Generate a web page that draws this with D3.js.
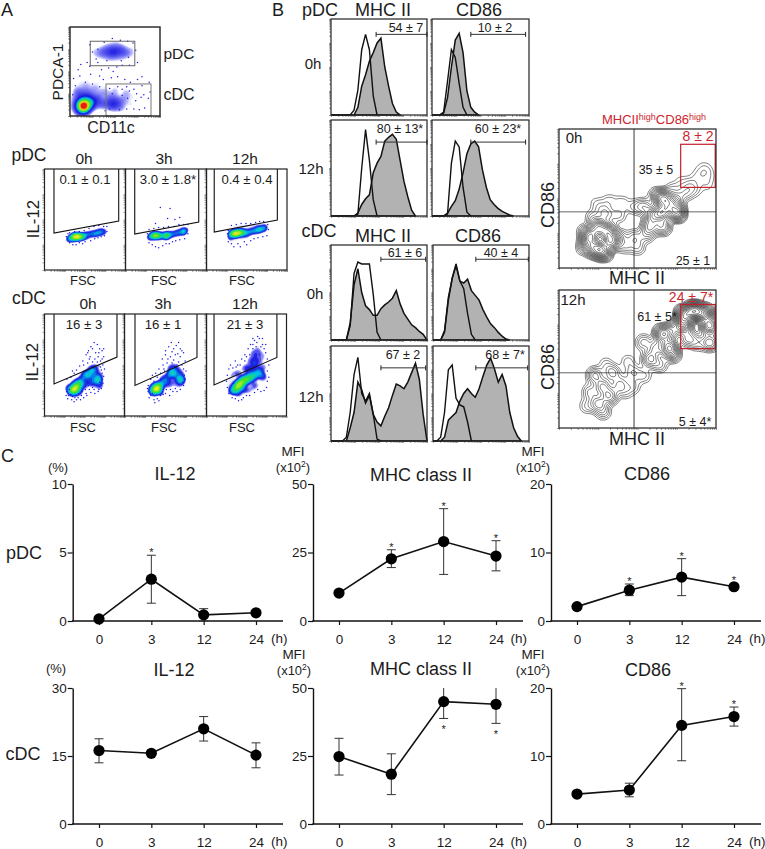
<!DOCTYPE html>
<html>
<head>
<meta charset="utf-8">
<script src="https://cdn.jsdelivr.net/npm/d3@7"></script>
<style>
body { margin: 0; background: #fff; }
svg { display: block; }
text { font-family: "Liberation Sans", Arial, sans-serif; fill: #1c1c1c; }
</style>
</head>
<body>
<div id="figure"></div>
<script>
// panel C: line charts (mean, lower and upper error ends)
var hours = ["0", "3", "12", "24"];

var pdcIl12 = [0.15, 3.05, 0.45, 0.6];
var pdcIl12Lo = [null, 1.3, 0, null];
var pdcIl12Hi = [null, 4.8, 0.9, null];
var pdcIl12Stars = ["", "up", "", ""];

var pdcMhc = [10.2, 22.7, 29, 23.7];
var pdcMhcLo = [null, 19.5, 17, 18.3];
var pdcMhcHi = [null, 26, 41, 29.3];
var pdcMhcStars = ["", "up", "up", "up"];

var pdcCd86 = [2.1, 4.5, 6.4, 5];
var pdcCd86Lo = [null, 3.7, 3.7, null];
var pdcCd86Hi = [null, 5.4, 9.1, null];
var pdcCd86Stars = ["", "up", "up", "up"];

var cdcIl12 = [16.2, 15.6, 21, 15.2];
var cdcIl12Lo = [13.5, null, 18.3, 12.4];
var cdcIl12Hi = [18.8, null, 23.7, 17.9];
var cdcIl12Stars = ["", "", "", ""];

var cdcMhc = [24.8, 18.3, 45, 44];
var cdcMhcLo = [18, 10.8, 38.8, 37];
var cdcMhcHi = [31.5, 25.8, 50, 50];
var cdcMhcStars = ["", "", "down", "down"];

var cdcCd86 = [4.4, 5, 14.5, 15.8];
var cdcCd86Lo = [null, 4, 9.3, 14.4];
var cdcCd86Hi = [null, 6, 19.9, 17.2];
var cdcCd86Stars = ["", "", "up", "up"];

// panel B: histograms, height in % of the frame, one value every 4% along the x axis
var pdcMhc0Ctrl = [0,0,0,0,0,0,5,26,68,84,68,20,0];
var pdcMhc0Stim = [0,0,0,0,0,0,0,8,30,42,56,65,75,80,50,30,12,3,0];
var pdcCd860Ctrl = [0,0,0,3,35,68,60,33,8,0];
var pdcCd860Stim = [0,0,0,2,18,50,78,85,65,25,8,3,0];
var pdcMhc12Ctrl = [0,0,0,0,0,0,0,2,50,90,58,17,0];
var pdcMhc12Stim = [0,0,0,0,0,0,0,3,12,18,22,45,55,62,78,82,85,80,58,36,20,6,0];
var pdcCd8612Ctrl = [0,0,0,0,2,55,78,72,30,4,0];
var pdcCd8612Stim = [0,0,0,0,3,10,16,28,45,65,75,78,72,48,30,17,12,8,5,3,1,0];
var cdcMhc0Ctrl = [0,0,0,0,0,15,70,82,80,80,80,48,8,0];
var cdcMhc0Stim = [0,0,0,0,0,18,58,75,50,36,32,26,26,33,37,40,44,52,38,28,22,16,13,9,6,0];
var cdcCd860Ctrl = [0,0,0,10,45,65,78,62,54,28,6,0];
var cdcCd860Stim = [0,0,0,8,42,65,80,62,60,64,52,47,42,32,24,17,13,8,4,1,0];
var cdcMhc12Ctrl = [0,0,0,0,4,30,70,88,50,42,50,28,2,0];
var cdcMhc12Stim = [0,0,0,0,0,14,30,62,54,40,48,28,20,16,26,35,48,60,58,55,62,72,82,65,28,0];
var cdcCd8612Ctrl = [0,0,4,30,75,80,45,38,36,20,0];
var cdcCd8612Stim = [0,0,0,4,22,26,30,42,50,55,50,46,55,68,80,87,76,62,70,58,30,14,5,0];

// panel A and the contour plots: events as [x %, y %, weight]
var gateEvents = [
  [15,11,90],[10,13,20],[20,11,30],[15,6,20],[15,17,30],[22,17,20],[10,6,8],[26,14,14],[7,10,6],[20,23,10],
  [12,24,8],[30,20,8],[35,14,8],[6,20,4],[8,28,4],[18,32,4],[28,30,4],[42,14,8],[48,12,12],[52,16,8],
  [46,20,6],[56,10,5],[60,18,4],[38,26,4],[50,28,3],[62,26,3],[70,22,2],[68,12,2],[76,14,1],[78,26,1],
  [84,16,1],[40,36,2],[30,40,2],[20,42,2],[50,38,1],[60,36,1],[72,34,1],[84,30,1],[10,38,2],[14,50,1],
  [28,50,1],[42,48,1],[56,50,1],[36,56,1],[64,46,1],[48,72,16],[40,72,8],[56,73,10],[34,71,4],[62,71,5],
  [28,70,2],[68,72,2],[44,78,3],[52,78,3],[44,66,3],[54,66,3],[60,80,1],[36,78,1],[36,64,1],[62,62,1],
  [50,84,1],[26,76,1],[70,78,1],[48,60,1],[72,66,1]
];
var gateSpeckle = [
  [33,33],[37,41],[44,31],[47,25],[53,33],[58,30],[63,33],[66,28],[71,30],[74,25],[79,21],[82,24],[87,20],[89,27],
  [73,17],[64,20],[58,23],[55,7],[63,8],[71,8],[77,7],[83,9],[44,8],[39,6],[25,36],[17,38],[6,34],[3,24],[4,42],
  [11,45],[23,47],[33,45],[46,43],[53,44],[61,41],[67,38],[75,41],[35,52],[43,54],[52,55],[58,57],[22,56],[31,60],
  [66,57],[41,62],[29,64],[57,62],[65,66],[73,74],[25,72],[31,75],[22,80],[38,83],[47,87],[56,85],[64,84],[70,82],
  [75,60],[80,44],[88,38],[19,60],[12,58],[9,52],[48,50],[80,34]
];
var pdc0hEvents = [
  [30,31,4],[34,32,10],[38,33,18],[42,33,18],[46,33,10],[50,34,5],[54,35,3],[58,36,3],[62,36,4],[66,37,4],
  [70,38,4],[74,38,2],[28,29,1],[32,28,1],[36,27,1],[40,28,1],[46,29,1],[52,30,1],[56,31,1],[60,33,1],
  [64,34,1],[68,34,1],[72,35,1],[76,36,1],[76,41,1],[70,42,1],[64,41,1],[58,40,1],[52,38,1],[46,37,1],
  [40,37,1],[34,36,1]
];
var pdc0hSpeckle = [
  [27,33],[29,36],[31,27],[35,25],[39,25],[43,27],[47,26],[50,28],[53,33],[57,29],[62,31],[66,32],[70,33],[74,34],
  [77,38],[77,43],[73,43],[67,44],[61,43],[55,41],[49,39],[43,38],[37,38],[31,37]
];
var pdc3hEvents = [
  [30,33,5],[34,34,10],[38,34,16],[43,34,10],[50,34,15],[55,35,6],[60,36,4],[65,37,5],[71,38,8],[75,39,3],
  [28,30,1],[32,28,1],[36,27,1],[42,28,1],[48,29,1],[54,30,1],[60,32,1],[66,33,1],[72,34,1],[76,42,1],
  [70,43,1],[64,42,1],[56,41,1],[50,40,1],[44,40,1],[38,40,1],[32,39,1],[44.7,66,1],[49,65.5,1],[75,66,1],
  [38,56,1],[50.6,59,1],[63,59.5,1],[69,58,1],[73,53.5,1],[59,53,1],[34,50,1],[46.5,48,1],[57,46.5,1],[65,48,1],
  [40.5,44,1],[69,46.5,1],[28,17,1],[30,21.5,1],[43,25,1],[51,21,1],[59,25,1]
];
var pdc3hSpeckle = [
  [27,36],[29,27],[33,25],[37,23],[41,22],[46,24],[50,26],[54,26],[58,28],[62,29],[67,30],[73,31],[77,36],[77,45],
  [72,45],[66,45],[60,43],[53,43],[47,42],[41,42],[35,41],[29,40],[37,46],[52,51],[61,50],[43,62],[55,61],[67,52]
];
var pdc12hEvents = [
  [30,35,6],[33,36,12],[37,36,20],[41,37,14],[45,37,10],[50,37,6],[55,38,5],[60,39,6],[65,40,8],[70,41,6],
  [74,42,3],[28,31,2],[32,30,2],[38,29,2],[44,31,2],[50,32,2],[56,33,1],[62,34,1],[68,35,1],[74,37,1],
  [28,41,1],[34,43,2],[40,44,2],[46,44,2],[52,44,2],[58,45,2],[64,46,2],[70,46,1],[74,47,1],[30,24,1],
  [36,21,1],[44,25,1],[52,27,1]
];
var pdc12hSpeckle = [
  [26,36],[27,28],[31,26],[34,23],[39,26],[42,23],[47,28],[50,25],[55,29],[59,31],[64,32],[70,33],[75,34],[77,40],
  [76,45],[71,48],[66,48],[61,47],[55,46],[49,46],[43,46],[37,45],[31,44],[27,39]
];
var cdc0hEvents = [
  [34,24,6],[38,27,10],[42,31,7],[46,34,3],[55,40,5],[50,42,3],[60,44,3],[64,38,3],[67,35,5],[70,30,3],
  [60,32,3],[50,30,3],[44,25,3],[28,28,2],[32,28,2],[36,34,2],[40,22,2],[48,38,2],
  [56,34,2],[62,48,2],[66,44,2],[70,38,2],[58,46,2],[30,22,1],[36,18,1],[46,20,1],[54,24,1],[62,26,1],
  [68,26,1],[72,42,1],[42,38,1],[52,50,1],[64,52,1],[70,50,1]
];
var cdc0hSpeckle = [
  [27,20],[29,17],[31,26],[33,21],[35,19],[37,14],[40,16],[43,22],[45,16],[47,24],[49,18],[51,26],[53,20],[55,30],
  [58,23],[60,28],[63,22],[65,30],[67,24],[69,33],[71,27],[73,32],[74,39],[75,46],[73,50],[71,45],[68,49],[66,53],
  [63,56],[60,53],[57,58],[54,52],[51,44],[49,50],[47,41],[44,38],[41,36],[37,42],[33,38],[30,30],[35,44],[40,45],
  [44,49],[64,62],[69,66],[58,68],[62,72],[55,64],[74,66],[52,60],[67,58],[72,56],[48,54],[61,47],[28,24],[28,36],
  [30,20],[34,16],[38,18],[42,18],[46,20],[52,22],[56,26],[62,26],[68,26],[72,36],[72,42],[70,48],[70,54],[56,56],
  [68,62],[72,64],[60,66],[66,70],[74,58],[54,62]
];
var cdc3hEvents = [
  [35,24,6],[39,27,10],[43,30,6],[48,34,3],[54,40,3],[58,43,5],[62,40,3],[66,36,3],[70,35,5],[68,30,2],
  [60,32,2],[52,30,2],[44,24,2],[32,28,2],[36,32,2],[42,24,2],[48,38,2],[54,34,2],[62,48,2],[66,44,2],[70,40,2],[56,48,2],
  [30,24,1],[36,18,1],[46,21,1],[56,26,1],[64,26,1],[72,44,1],[42,38,1],[50,50,1],[60,52,1],[68,50,1]
];
var cdc3hSpeckle = [
  [29,24],[29,30],[32,36],[32,20],[36,16],[40,17],[44,20],[50,22],[56,26],[62,27],[72,30],[73,40],[72,46],[36,34],
  [40,38],[44,42],[48,46],[52,52],[58,52],[64,50],[70,50],[56,58],[62,60],[68,58],[50,60],[60,66],[66,72],[72,62],
  [54,68],[28,27],[30,18],[34,22],[37,13],[42,15],[47,21],[51,26],[55,20],[59,24],[64,24],[68,26],[71,33],[74,36],
  [75,44],[66,53],[60,55],[53,56],[47,50],[42,46],[38,42],[34,40],[46,56],[70,64],[63,69],[57,72],[74,54],[68,66],
  [50,64],[58,63],[65,61],[44,36],[49,44]
];
var cdc12hEvents = [
  [40,30,24],[35,26,12],[45,34,16],[50,36,12],[55,38,10],[60,40,8],[65,44,6],[52,46,5],[60,50,4],[68,40,5],
  [72,38,3],[60,30,4],[48,26,5],[40,22,4],[30,24,3],[28,32,2],[30,38,2],[34,42,2],[40,42,3],
  [46,48,2],[54,54,3],[60,56,3],[66,54,3],[72,48,3],[70,30,2],[56,24,2],[62,62,3],[68,62,2],[56,62,2],[72,58,2],[64,68,2]
];
var cdc12hSpeckle = [
  [26,28],[25,34],[26,40],[28,46],[30,50],[33,47],[36,54],[39,50],[44,56],[48,54],[50,58],[52,66],[55,70],[58,70],
  [60,74],[63,72],[66,76],[70,70],[72,66],[74,62],[76,56],[78,50],[76,44],[78,38],[76,34],[75,28],[72,25],[68,24],
  [64,26],[60,23],[54,20],[50,20],[46,18],[44,16],[40,15],[36,17],[32,18],[28,22],[58,66],[62,68],[68,68],[74,70],
  [54,60],[48,60],[64,78],[58,76],[70,76],[34,32],[37,48],[42,50],[66,60]
];
var contour0hEvents = [
  [20,23,16],[23,14,16],[28,12,16],[33,19,16],[31,26,14],[25,29,14],[18,17,8],[26,20,1],[15,14,1],[16,26,2],
  [22,36,2.5],[30,38,3],[38,22,4],[42,16,2.5],[50,15,2.5],[48,22,3],[56,24,3],[24,46,1.2],[32,48,1.5],[40,47,1.5],
  [48,44,2],[38,38,2],[28,42,1.5],[66,40,14],[75,40,16],[66,50,14],[60,38,9],[70,46,8],[58,30,7],[66,30,7],
  [74,48,6],[80,54,3],[54,44,4],[62,52,3],[72,56,2],[84,60,1.5],[88,66,1],[93,68,1],[94,60,1],[86,56,1.5],
  [94,72,0.6],[78,62,1],[90,73,0.4],[97,66,0.4]
];
var contour12hEvents = [
  [80,82,20],[86,85,24],[92,83,18],[96,74,13],[96,62,7],[82,65,5],[79,75,14],[88,62,3],[70,59,12],
  [66,68,13],[72,54,7],[58,50,6],[62,58,5],[72,70,7],[54,62,3],[64,46,3],[28,30,6],[32,23,7],[25,18,6],
  [23,38,5],[34,40,4],[28,12,3],[20,26,3],[38,30,3],[18,16,2],[42,26,1.5],[47,40,2.5],[47,30,2],[54,38,2],
  [44,48,1.5],[30,46,1.5],[40,34,1.5]
];

// gate polygons in % of the frame: left x, right x, lower y at left, lower y at right
var pdcGates = [[11.7, 91.6, 36.6, 48.5], [11.4, 90.4, 35.6, 47.5], [9.6, 88, 37.6, 49.5]];
var cdcGates = [[11.9, 90.6, 31.4, 57.8], [12.8, 88.4, 29.9, 57.4], [9.4, 88, 30.4, 57.4]];

var svg = d3.select("#figure").append("svg")
    .attr("width", 765)
    .attr("height", 849);

var clipCount = 0;

function addText(str, x, y, size, opts) {
    opts = opts || {};
    var t = svg.append("text")
        .attr("x", x)
        .attr("y", y)
        .attr("font-size", size)
        .attr("text-anchor", opts.anchor || "middle")
        .text(str);
    if (opts.color) t.style("fill", opts.color);
    if (opts.rotate) t.attr("transform", "rotate(-90 " + x + " " + y + ")");
    return t;
}

function frame(x0, y0, x1, y1) {
    var g = svg.append("g").attr("transform", "translate(" + x0 + "," + y0 + ")");
    clipCount++;
    svg.append("clipPath").attr("id", "clip" + clipCount)
        .append("rect").attr("width", x1 - x0).attr("height", y1 - y0);
    return {
        g: g,
        w: x1 - x0,
        h: y1 - y0,
        clip: "url(#clip" + clipCount + ")",
        x: d3.scaleLinear().domain([0, 100]).range([0, x1 - x0]),
        y: d3.scaleLinear().domain([0, 100]).range([y1 - y0, 0])
    };
}

function border(f, color, width) {
    f.g.append("rect")
        .attr("width", f.w)
        .attr("height", f.h)
        .attr("fill", "none")
        .attr("stroke", color || "#222")
        .attr("stroke-width", width || 1.3);
}

// little log ticks the cytometer software puts on its plots
function logTicks(f) {
    var xLog = d3.scaleLog().domain([1, 10000]).range([0, f.w]);
    var yLog = d3.scaleLog().domain([1, 10000]).range([f.h, 0]);
    var bottom = f.g.append("g").attr("transform", "translate(0," + f.h + ")")
        .call(d3.axisBottom(xLog).tickSize(2).tickFormat(""));
    var left = f.g.append("g")
        .call(d3.axisLeft(yLog).tickSize(2).tickFormat(""));
    [bottom, left].forEach(function(a) {
        a.select(".domain").remove();
        a.selectAll("line").attr("stroke", "#555").attr("stroke-width", 0.6);
    });
}

function logLevels(lo, hi, n) {
    return d3.range(n).map(function(i) {
        return lo * Math.pow(hi / lo, i / (n - 1));
    });
}

// contour lines sit apart in the tails and pack together on the clusters
function squareLevels(hi, first, n) {
    return d3.range(first, n + 1).map(function(i) {
        return hi * Math.pow(i / n, 2);
    });
}

function density(f, events, bandwidth, levels) {
    return d3.contourDensity()
        .x(function(d) { return f.x(d[0]); })
        .y(function(d) { return f.y(d[1]); })
        .weight(function(d) { return d[2]; })
        .size([f.w, f.h])
        .cellSize(1)
        .bandwidth(bandwidth)
        .thresholds(levels)(events);
}

function drawPseudocolor(f, events, speckle, bandwidth, levels, blueTo) {
    var span = 1 - blueTo;
    var jet = d3.scaleLinear()
        .domain([0, blueTo * 0.4, blueTo, blueTo + span * 0.3, blueTo + span * 0.55, blueTo + span * 0.8, 1])
        .range(["#dcdcff", "#7878f4", "#1414e0", "#00c8e8", "#30e030", "#f0ee20", "#e81c10"])
        .clamp(true);
    var body = f.g.append("g").attr("clip-path", f.clip);
    var contours = density(f, events, bandwidth, levels);

    body.selectAll("path.haze")
        .data(contours.slice(0, 1))
        .enter()
        .append("path")
        .attr("class", "haze")
        .attr("d", d3.geoPath())
        .attr("fill", jet(0))
        .attr("fill-opacity", 0.6);

    body.selectAll("path.level")
        .data(contours.slice(1))
        .enter()
        .append("path")
        .attr("class", "level")
        .attr("d", d3.geoPath())
        .attr("fill", function(d, i) { return jet((i + 1) / (levels.length - 1)); });

    // the sparse events that stay single dots around each cloud
    body.selectAll("circle")
        .data(speckle)
        .enter()
        .append("circle")
        .attr("cx", function(d) { return f.x(d[0]); })
        .attr("cy", function(d) { return f.y(d[1]); })
        .attr("r", 0.75)
        .attr("fill", "#1c1ce8");
}

function drawGate(f, gate) {
    var points = [
        [gate[0], 100], [gate[0], gate[2]], [gate[1], gate[3]], [gate[1], 100]
    ];
    f.g.append("path")
        .attr("d", d3.line()
            .x(function(d) { return f.x(d[0]); })
            .y(function(d) { return f.y(d[1]); })(points))
        .attr("fill", "none")
        .attr("stroke", "#111")
        .attr("stroke-width", 1.1);
}

function drawHistogram(f, ctrl, stim, bar) {
    var binX = function(d, i) { return f.x(i * 4); };
    var area = d3.area().x(binX).y0(f.h).y1(function(d) { return f.y(d); });
    var line = d3.line().x(binX).y(function(d) { return f.y(d); });

    f.g.append("path")
        .attr("d", area(stim))
        .attr("fill", "#b2b2b2")
        .attr("stroke", "#111")
        .attr("stroke-width", 1.5);
    f.g.append("path")
        .attr("d", line(ctrl))
        .attr("fill", "none")
        .attr("stroke", "#111")
        .attr("stroke-width", 1.4);

    // marker bar with its end caps
    f.g.append("line")
        .attr("x1", f.x(bar[0])).attr("x2", f.x(bar[1]))
        .attr("y1", f.y(bar[2])).attr("y2", f.y(bar[2]))
        .attr("stroke", "#333").attr("stroke-width", 1);
    bar.slice(0, 2).forEach(function(b) {
        f.g.append("line")
            .attr("x1", f.x(b)).attr("x2", f.x(b))
            .attr("y1", f.y(bar[2]) - 2.5).attr("y2", f.y(bar[2]) + 2.5)
            .attr("stroke", "#222").attr("stroke-width", 1);
    });
    logTicks(f);
    border(f, "#222", 1.2);
}

function drawContour(f, events, crossX, crossY, red) {
    var body = f.g.append("g").attr("clip-path", f.clip);
    body.selectAll("path")
        .data(density(f, events, 4.6, squareLevels(1, 3, 46)))
        .enter()
        .append("path")
        .attr("d", d3.geoPath())
        .attr("fill", "none")
        .attr("stroke", "#000")
        .attr("stroke-width", 0.5);
    f.g.append("line")
        .attr("x1", f.x(crossX)).attr("x2", f.x(crossX))
        .attr("y1", 0).attr("y2", f.h)
        .attr("stroke", "#222").attr("stroke-width", 0.9);
    f.g.append("line")
        .attr("x1", 0).attr("x2", f.w)
        .attr("y1", f.y(crossY)).attr("y2", f.y(crossY))
        .attr("stroke", "#222").attr("stroke-width", 0.7);
    f.g.append("rect")
        .attr("x", f.x(red[0]))
        .attr("width", f.x(red[1]) - f.x(red[0]))
        .attr("y", f.y(red[3]))
        .attr("height", f.y(red[2]) - f.y(red[3]))
        .attr("fill", "none")
        .attr("stroke", "#c4202c")
        .attr("stroke-width", 1.2);
    logTicks(f);
    border(f, "#222", 1.2);
}

function drawLineChart(opts) {
    var x = d3.scalePoint().domain(hours).range(opts.xRange);
    var y = d3.scaleLinear().domain([0, opts.max]).range(opts.yRange);
    var g = svg.append("g");

    var xAxis = g.append("g")
        .attr("transform", "translate(0," + opts.yRange[0] + ")")
        .call(d3.axisBottom(x).tickSize(4).tickPadding(9).tickSizeOuter(0));
    xAxis.select(".domain").remove();
    var yAxis = g.append("g")
        .attr("transform", "translate(" + opts.axisX + ",0)")
        .call(d3.axisLeft(y).tickValues(opts.ticks).tickSize(5).tickPadding(1).tickSizeOuter(0));
    [xAxis, yAxis].forEach(function(a) {
        a.selectAll("text").attr("font-size", 13.5).style("font-family", "Liberation Sans");
        a.selectAll("line").attr("stroke", "#111").attr("stroke-width", 1.2);
    });
    yAxis.select(".domain").attr("stroke", "#111").attr("stroke-width", 1.4);
    g.append("line")
        .attr("x1", opts.axisX - 0.7).attr("x2", opts.axisEnd)
        .attr("y1", opts.yRange[0]).attr("y2", opts.yRange[0])
        .attr("stroke", "#111").attr("stroke-width", 1.4);

    // error bars
    var capW = 4.5;
    opts.means.forEach(function(m, i) {
        var cx = x(hours[i]);
        if (opts.lo[i] !== null) {
            g.append("line")
                .attr("x1", cx).attr("x2", cx)
                .attr("y1", y(opts.lo[i])).attr("y2", y(opts.hi[i]))
                .attr("stroke", "#333").attr("stroke-width", 1);
            [opts.lo[i], opts.hi[i]].forEach(function(v) {
                if (v >= opts.max) return;
                g.append("line")
                    .attr("x1", cx - capW).attr("x2", cx + capW)
                    .attr("y1", y(v)).attr("y2", y(v))
                    .attr("stroke", "#333").attr("stroke-width", 1);
            });
        }
        if (opts.stars[i] === "up") {
            var top = opts.hi[i] === null ? y(m) - 4 : y(opts.hi[i]);
            addText("*", cx, top + 1, 11);
        } else if (opts.stars[i] === "down") {
            addText("*", cx, y(opts.lo[i]) + 14.5, 11);
        }
    });

    g.append("path")
        .attr("d", d3.line()
            .x(function(d, i) { return x(hours[i]); })
            .y(function(d) { return y(d); })(opts.means))
        .attr("fill", "none")
        .attr("stroke", "#111")
        .attr("stroke-width", 1.6);

    g.selectAll("circle")
        .data(opts.means)
        .enter()
        .append("circle")
        .attr("cx", function(d, i) { return x(hours[i]); })
        .attr("cy", function(d) { return y(d); })
        .attr("r", 5.6)
        .attr("fill", "#000");
}

function mfiLabel(cx, y0) {
    addText("MFI", cx, y0, 13.5);
    var t = addText("(x10", cx, y0 + 16, 13);
    t.append("tspan").attr("font-size", 8.5).attr("dy", -5).text("2");
    t.append("tspan").attr("dy", 5).text(")");
}

/* ---------- panel A ---------- */
addText("A", 1, 16, 18, {anchor: "start"});

var gatingPlot = frame(70, 27, 160, 116);
drawPseudocolor(gatingPlot, gateEvents, gateSpeckle, 3.2, logLevels(0.03, 1.4, 18), 0.6);
logTicks(gatingPlot);
gatingPlot.g.append("rect")
    .attr("x", gatingPlot.x(22.5)).attr("width", gatingPlot.x(72) - gatingPlot.x(22.5))
    .attr("y", gatingPlot.y(84)).attr("height", gatingPlot.y(56.5) - gatingPlot.y(84))
    .attr("fill", "none").attr("stroke", "#666").attr("stroke-width", 1);
gatingPlot.g.append("rect")
    .attr("x", gatingPlot.x(40)).attr("width", gatingPlot.x(90) - gatingPlot.x(40))
    .attr("y", gatingPlot.y(36)).attr("height", gatingPlot.y(0) - gatingPlot.y(36))
    .attr("fill", "none").attr("stroke", "#777").attr("stroke-width", 1);
border(gatingPlot, "#222", 1.4);
addText("PDCA-1", 63, 72, 15.5, {rotate: true});
addText("CD11c", 111, 133, 16);
addText("pDC", 179, 59, 15.5);
addText("cDC", 179, 100, 16);

addText("pDC", 29, 161, 17.5);
addText("cDC", 29, 304, 17.5);
addText("IL-12", 39, 219, 16.8, {rotate: true});
addText("IL-12", 37.5, 362, 16.8, {rotate: true});

var flowTimes = ["0h", "3h", "12h"];
var pdcEdges = [44.5, 125.5, 206.5, 287];
var cdcEdges = [44.5, 124.5, 206.5, 286.5];
var pdcEvents = [pdc0hEvents, pdc3hEvents, pdc12hEvents];
var pdcSpeckle = [pdc0hSpeckle, pdc3hSpeckle, pdc12hSpeckle];
var cdcEvents = [cdc0hEvents, cdc3hEvents, cdc12hEvents];
var cdcSpeckle = [cdc0hSpeckle, cdc3hSpeckle, cdc12hSpeckle];
var pdcPercents = ["0.1 ± 0.1", "3.0 ± 1.8*", "0.4 ± 0.4"];
var cdcPercents = ["16 ± 3", "16 ± 1", "21 ± 3"];
var pdcTitleX = [84, 164, 245];
var pdcPercentX = [85, 168, 247];
var cdcTitleX = [88, 163, 245];
var cdcPercentX = [84, 163, 245];
var fscX = [83, 164, 242];

flowTimes.forEach(function(t, i) {
    var p = frame(pdcEdges[i], 169, pdcEdges[i + 1], 270);
    drawPseudocolor(p, pdcEvents[i], pdcSpeckle[i], 2, logLevels(0.07, 1.3, 14), 0.2);
    drawGate(p, pdcGates[i]);
    logTicks(p);
    border(p, "#222", 1.2);
    addText(t, pdcTitleX[i], 164, 15.5);
    addText(pdcPercents[i], pdcPercentX[i], 184, 13.2);
    addText("FSC", fscX[i], 285, 13);

    var c = frame(cdcEdges[i], 314, cdcEdges[i + 1], 416);
    drawPseudocolor(c, cdcEvents[i], cdcSpeckle[i], 2.8, logLevels(0.04, i === 2 ? 0.85 : 0.36, 14), 0.25);
    drawGate(c, cdcGates[i]);
    logTicks(c);
    border(c, "#222", 1.2);
    addText(t, cdcTitleX[i], 309, 15.5);
    addText(cdcPercents[i], cdcPercentX[i], 329, 13.2);
    addText("FSC", fscX[i], 432, 13);
});

/* ---------- panel B ---------- */
addText("B", 272, 16, 18, {anchor: "start"});
addText("pDC", 320, 16, 18);
addText("cDC", 319, 237, 18);
addText("MHC II", 383, 16, 18);
addText("CD86", 479, 16, 18);
addText("MHC II", 383, 242, 18);
addText("CD86", 478, 242, 18);
addText("0h", 313, 69, 15);
addText("12h", 311, 174, 15);
addText("0h", 315, 299, 15);
addText("12h", 311, 402, 15);

drawHistogram(frame(331, 19, 427, 115), pdcMhc0Ctrl, pdcMhc0Stim, [47, 100, 84]);
drawHistogram(frame(432, 19, 529, 115), pdcCd860Ctrl, pdcCd860Stim, [40, 96.5, 84]);
drawHistogram(frame(331, 120, 427, 216), pdcMhc12Ctrl, pdcMhc12Stim, [47, 100, 77]);
drawHistogram(frame(432, 120, 529, 216), pdcCd8612Ctrl, pdcCd8612Stim, [40, 96.5, 77]);
drawHistogram(frame(331, 245, 427, 340), cdcMhc0Ctrl, cdcMhc0Stim, [52, 98.6, 85]);
drawHistogram(frame(433, 245, 529, 340), cdcCd860Ctrl, cdcCd860Stim, [44.6, 99.3, 85]);
drawHistogram(frame(331, 346, 427, 441), cdcMhc12Ctrl, cdcMhc12Stim, [52, 98.6, 77]);
drawHistogram(frame(433, 346, 529, 441), cdcCd8612Ctrl, cdcCd8612Stim, [44.6, 98.6, 77]);

addText("54 ± 7", 406, 32, 12.5);
addText("10 ± 2", 495, 32, 12.5);
addText("80 ± 13*", 400, 133, 12.5);
addText("60 ± 23*", 498, 133, 12.5);
addText("61 ± 6", 405, 257, 12.5);
addText("40 ± 4", 501, 257, 12.5);
addText("67 ± 2", 403, 359, 12.5);
addText("68 ± 7*", 505, 359, 12.5);

var red = "#d0242e";
var redTitle = addText("MHCII", 602, 124, 13, {anchor: "start", color: red});
redTitle.append("tspan").attr("font-size", 9).attr("dy", -4).style("fill", red).text("high");
redTitle.append("tspan").attr("dy", 4).style("fill", red).text("CD86");
redTitle.append("tspan").attr("font-size", 9).attr("dy", -4).style("fill", red).text("high");

drawContour(frame(559, 129, 716, 268), contour0hEvents, 47.8, 40.4, [77.5, 99.5, 58, 89]);
drawContour(frame(559, 290, 716, 428), contour12hEvents, 47.8, 40, [77.5, 99.5, 57.5, 89.5]);

addText("8 ± 2", 698, 141, 14, {color: red});
addText("0h", 574, 143, 15);
addText("35 ± 5", 656, 174, 12.5);
addText("25 ± 1", 693, 265, 12.5);
addText("CD86", 554, 205, 18, {rotate: true});
addText("MHC II", 637, 284, 18);

addText("24 ± 7*", 691, 302, 14, {color: red});
addText("12h", 573, 305, 15);
addText("61 ± 5*", 657, 321, 12.5);
addText("5 ± 4*", 695, 426, 12.5);
addText("CD86", 554, 367, 18, {rotate: true});
addText("MHC II", 637, 445, 18);

/* ---------- panel C ---------- */
addText("C", 1, 462, 18, {anchor: "start"});
addText("pDC", 24, 559, 18);
addText("cDC", 23, 760, 18);

var columns = [
    {xRange: [99, 256], axisX: 72.7, axisEnd: 283, hX: 271},
    {xRange: [339, 496], axisX: 313, axisEnd: 523, hX: 510.5},
    {xRange: [577, 734], axisX: 551, axisEnd: 761, hX: 749}
];
var topRow = [621, 484];
var bottomRow = [824, 688];

drawLineChart(Object.assign({}, columns[0], {yRange: topRow, max: 10, ticks: [0, 5, 10],
    means: pdcIl12, lo: pdcIl12Lo, hi: pdcIl12Hi, stars: pdcIl12Stars}));
drawLineChart(Object.assign({}, columns[1], {yRange: topRow, max: 50, ticks: [0, 25, 50],
    means: pdcMhc, lo: pdcMhcLo, hi: pdcMhcHi, stars: pdcMhcStars}));
drawLineChart(Object.assign({}, columns[2], {yRange: topRow, max: 20, ticks: [0, 10, 20],
    means: pdcCd86, lo: pdcCd86Lo, hi: pdcCd86Hi, stars: pdcCd86Stars}));
drawLineChart(Object.assign({}, columns[0], {yRange: bottomRow, max: 30, ticks: [0, 15, 30],
    means: cdcIl12, lo: cdcIl12Lo, hi: cdcIl12Hi, stars: cdcIl12Stars}));
drawLineChart(Object.assign({}, columns[1], {yRange: bottomRow, max: 50, ticks: [0, 25, 50],
    means: cdcMhc, lo: cdcMhcLo, hi: cdcMhcHi, stars: cdcMhcStars}));
drawLineChart(Object.assign({}, columns[2], {yRange: bottomRow, max: 20, ticks: [0, 10, 20],
    means: cdcCd86, lo: cdcCd86Lo, hi: cdcCd86Hi, stars: cdcCd86Stars}));

columns.forEach(function(c) {
    addText("(h)", c.hX, 643, 13.5, {anchor: "start"});
    addText("(h)", c.hX, 846, 13.5, {anchor: "start"});
});

addText("(%)", 58, 472, 13);
addText("(%)", 56, 673, 13);
addText("IL-12", 175, 480, 18);
addText("IL-12", 174, 676, 18);
addText("MHC class II", 421, 481, 18);
addText("MHC class II", 421, 675, 18);
addText("CD86", 647, 480, 18);
addText("CD86", 648, 676, 18);
mfiLabel(293, 456);
mfiLabel(294, 659);
mfiLabel(533, 456);
mfiLabel(533, 659);
</script>
</body>
</html>
